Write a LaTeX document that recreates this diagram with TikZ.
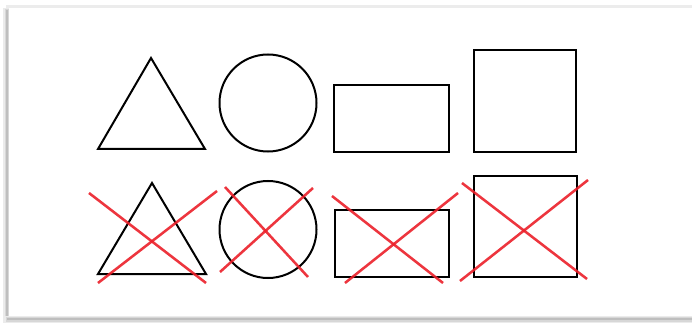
\documentclass[tikz,border=0pt]{standalone}
\definecolor{crossred}{RGB}{236,32,42}
\definecolor{shadowA}{RGB}{190,190,190}
\definecolor{shadowB}{RGB}{215,215,215}
\definecolor{shadowC}{RGB}{235,235,235}
\definecolor{topline}{RGB}{236,236,236}
\begin{document}
\begin{tikzpicture}[x=0.75pt,y=-0.75pt,
  outline/.style={draw=black,line width=1.5pt,line join=miter},
  crossline/.style={draw=crossred,line width=1.9pt,opacity=0.9}]
\useasboundingbox (0,0) rectangle (692,324);
\fill[white] (0,0) rectangle (692,324);
% frame shadow: top light line, left and bottom soft shadow
\fill[topline] (6,5) rectangle (692,8);
\fill[shadowC] (3,8) rectangle (9,323);
\fill[shadowB] (5,9) rectangle (9,322);
\fill[shadowA] (6,10) rectangle (8,321);
\fill[shadowC] (5,316) rectangle (692,323);
\fill[shadowB] (6,317) rectangle (692,322);
\fill[shadowA] (7,318) rectangle (692,320);
\fill[white] (9,8) rectangle (692,316);
% top row
\draw[outline] (151,58) -- (205,149) -- (98,149) -- cycle;
\draw[outline] (268,103) circle[radius=48.5];
\draw[outline] (334,85) rectangle (449,152);
\draw[outline] (474,50) rectangle (576,152);
% bottom row
\draw[outline] (152,183) -- (206,274) -- (98,274) -- cycle;
\draw[outline] (268,229.5) circle[radius=48.5];
\draw[outline] (335,210) rectangle (449,277);
\draw[outline] (474,176) rectangle (577,277);
% crosses
\draw[crossline] (89,193) -- (206,283);
\draw[crossline] (217,191) -- (98,283);
\draw[crossline] (225,187) -- (308,277);
\draw[crossline] (313,188) -- (220,272);
\draw[crossline] (332,196) -- (443,283);
\draw[crossline] (458,193) -- (345,283);
\draw[crossline] (462,183) -- (587,279);
\draw[crossline] (588,180) -- (460,281);
\end{tikzpicture}
\end{document}
